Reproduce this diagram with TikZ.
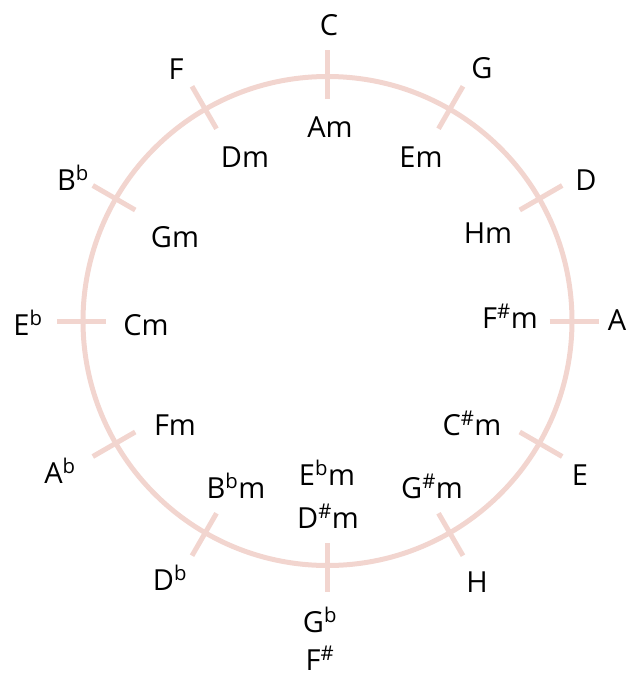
\documentclass[tikz,border=0pt]{standalone}
\usepackage{fontspec}
\setmainfont{Open Sans}
\usetikzlibrary{calc}
\definecolor{ring}{RGB}{242,213,207}
\newcommand\fl{\textsuperscript{b}}
\newcommand\sh{\textsuperscript{\#}}
\begin{document}
\begin{tikzpicture}[x=1pt,y=-1pt,
  lbl/.style={anchor=base,inner sep=0pt,font=\fontsize{29}{34}\selectfont,text=black},
  ringline/.style={draw=ring,line width=5pt}]
\useasboundingbox (0,0) rectangle (641,675);
\coordinate (o) at (327.5,321);
\draw[ringline] (o) circle (244.5);
\foreach \a in {0,30,...,330}
  \draw[ringline] ($(o)+(\a:222)$) -- ($(o)+(\a:271)$);
\node[lbl] (c) at (329,35) {C};
\node[lbl] (am) at (330,137) {Am};
\node[lbl] (f) at (176,79) {F};
\node[lbl] (dm) at (245,167) {Dm};
\node[lbl] (g) at (482,78) {G};
\node[lbl] (em) at (421,167) {Em};
\node[lbl] (bb) at (73,190) {B\fl};
\node[lbl] (gm) at (175,247) {Gm};
\node[lbl] (d) at (586,190) {D};
\node[lbl] (hm) at (488,243) {Hm};
\node[lbl] (eb) at (28,335) {E\fl};
\node[lbl] (cm) at (146,335) {Cm};
\node[lbl] (fsm) at (510,328) {F\sh m};
\node[lbl] (a) at (617,330) {A};
\node[lbl] (fm) at (175,435) {Fm};
\node[lbl] (ab) at (60,483) {A\fl};
\node[lbl] (csm) at (472,435) {C\sh m};
\node[lbl] (e) at (580,485) {E};
\node[lbl] (bbm) at (236,498) {B\fl m};
\node[lbl] (ebm) at (327,485) {E\fl m};
\node[lbl] (dsm) at (328,528) {D\sh m};
\node[lbl] (gsm) at (432,498) {G\sh m};
\node[lbl] (db) at (170,590) {D\fl};
\node[lbl] (h) at (477,592) {H};
\node[lbl] (gb) at (320,632) {G\fl};
\node[lbl] (fs) at (320,670) {F\sh};
\end{tikzpicture}
\end{document}
